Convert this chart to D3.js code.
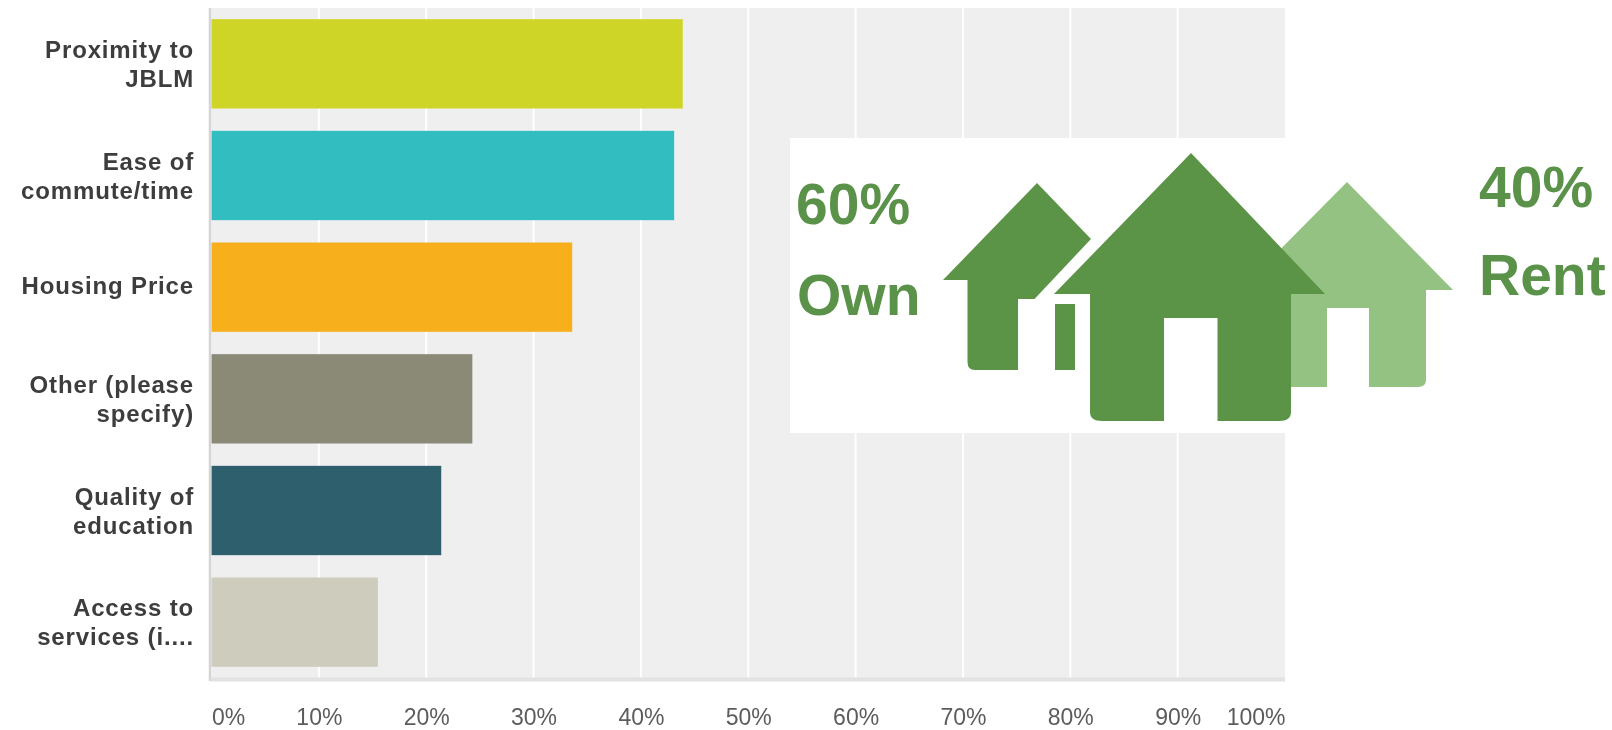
<!DOCTYPE html>
<html>
<head>
<meta charset="utf-8">
<script src="https://cdnjs.cloudflare.com/ajax/libs/d3/7.8.5/d3.min.js"></script>
<style>
    html, body { margin: 0; padding: 0; background: #fff; overflow: hidden; }
    svg { display: block; font-family: "Liberation Sans", Arial, sans-serif; filter: blur(0.5px); }
</style>
</head>
<body>
<svg id="chart" width="1612" height="730"></svg>
<script>
/* Values */
const categories = ["Proximity to|JBLM", "Ease of|commute/time", "Housing Price", "Other (please|specify)", "Quality of|education", "Access to|services (i...."];
const percents = [43.9, 43.1, 33.6, 24.3, 21.4, 15.5];
const barColors = ["#cfd527", "#32bec0", "#f7af1b", "#8b8a77", "#2d5f6d", "#cecdbd"];
const xTicks = [0, 10, 20, 30, 40, 50, 60, 70, 80, 90, 100];
const tenure = ["60%", "Own", "40%", "Rent"];

const svg = d3.select("#chart");

const plotLeft = 211.5;
const plotRight = 1285;
const plotTop = 8;
const plotBottom = 678;

const x = d3.scaleLinear().domain([0, 100]).range([plotLeft, plotRight]);
const y = d3.scaleBand()
    .domain(categories)
    .range([plotTop, plotBottom])
    .paddingInner(0.2)
    .paddingOuter(0.1);

/* plot background */
svg.append("rect")
    .attr("x", plotLeft)
    .attr("y", plotTop)
    .attr("width", plotRight - plotLeft)
    .attr("height", plotBottom - plotTop)
    .attr("fill", "#efefef");

/* white gridlines */
svg.selectAll(".grid")
    .data(xTicks.slice(1, -1))
    .enter()
    .append("line")
    .attr("class", "grid")
    .attr("x1", d => x(d))
    .attr("x2", d => x(d))
    .attr("y1", plotTop)
    .attr("y2", plotBottom)
    .attr("stroke", "#fff")
    .attr("stroke-width", 2);

/* bars */
svg.selectAll(".bar")
    .data(categories)
    .enter()
    .append("rect")
    .attr("class", "bar")
    .attr("x", plotLeft)
    .attr("y", d => y(d))
    .attr("width", (d, i) => x(percents[i]) - plotLeft)
    .attr("height", y.bandwidth())
    .attr("fill", (d, i) => barColors[i]);

/* axis edges */
svg.append("line")
    .attr("x1", plotLeft - 1.5)
    .attr("x2", plotLeft - 1.5)
    .attr("y1", plotTop)
    .attr("y2", plotBottom + 3)
    .attr("stroke", "#d4d4d4")
    .attr("stroke-width", 2.5);

svg.append("line")
    .attr("x1", plotLeft - 1)
    .attr("x2", plotRight)
    .attr("y1", plotBottom + 1.5)
    .attr("y2", plotBottom + 1.5)
    .attr("stroke", "#e2e2e2")
    .attr("stroke-width", 4);

/* x axis labels */
const xAxis = d3.axisBottom(x)
    .tickValues(xTicks)
    .tickSize(0)
    .tickPadding(0)
    .tickFormat(d => d + "%");

svg.append("g")
    .attr("transform", "translate(0," + plotBottom + ")")
    .call(xAxis)
    .call(g => g.select(".domain").remove())
    .call(g => g.selectAll("text")
        .attr("dy", null)
        .attr("y", 47)
        .attr("fill", "#5c5c5c")
        .style("font-size", "23px")
        .style("font-family", "Liberation Sans")
        .attr("text-anchor", d => d === 0 ? "start" : d === 100 ? "end" : "middle"));

/* y axis labels, wrapped on the pipe */
const yAxis = d3.axisLeft(y).tickSize(0).tickPadding(0);

svg.append("g")
    .attr("transform", "translate(194,0)")
    .call(yAxis)
    .call(g => g.select(".domain").remove())
    .call(g => g.selectAll("text").each(function (d) {
        const lines = d.split("|");
        const label = d3.select(this)
            .text(null)
            .attr("dy", null)
            .attr("x", 0)
            .attr("fill", "#3d3d3d")
            .attr("text-anchor", "end")
            .style("font-size", "24px")
            .style("font-weight", "700")
            .style("letter-spacing", "0.85px")
            .style("font-family", "Liberation Sans");
        lines.forEach((line, i) => {
            label.append("tspan")
                .attr("x", 0)
                .attr("y", (lines.length > 1 ? 8.5 : 7) + (i - (lines.length - 1) / 2) * 29)
                .text(line);
        });
    }));

/* inset picture with the houses */
svg.append("rect")
    .attr("x", 790)
    .attr("y", 138)
    .attr("width", plotRight - 790)
    .attr("height", 295)
    .attr("fill", "#fff");

const darkGreen = "#5c9447";
const lightGreen = "#94c282";

svg.append("path")
    .attr("fill", lightGreen)
    .attr("d", "M1347,182 L1453,290 L1426,290 L1426,380 Q1426,387 1418,387 L1369,387 L1369,308 L1327,308 L1327,387 L1280,387 L1280,290 L1240,290 Z");

svg.append("path")
    .attr("fill", darkGreen)
    .attr("d", "M1037,183 L1091,239 L1034.5,299 L1018,299 L1018,370 L975,370 Q967.5,370 967.5,362 L967.5,280 L943,280 Z");

svg.append("rect")
    .attr("x", 1055)
    .attr("y", 304)
    .attr("width", 20)
    .attr("height", 66)
    .attr("fill", darkGreen);

svg.append("path")
    .attr("fill", darkGreen)
    .attr("d", "M1191,153 L1325,294 L1291,294 L1291,412 Q1291,421 1279,421 L1217.5,421 L1217.5,318 L1164,318 L1164,421 L1102,421 Q1090,421 1090,412 L1090,294 L1054,294 Z");

/* tenure text */
const tenureX = [796, 797, 1479, 1479];
const tenureY = [224, 314.5, 207, 295];

svg.selectAll(".tenure")
    .data(tenure)
    .enter()
    .append("text")
    .attr("class", "tenure")
    .attr("x", (d, i) => tenureX[i])
    .attr("y", (d, i) => tenureY[i])
    .attr("fill", "#5a9249")
    .style("font-size", "57px")
    .style("font-weight", "700")
    .text(d => d);
</script>
</body>
</html>
